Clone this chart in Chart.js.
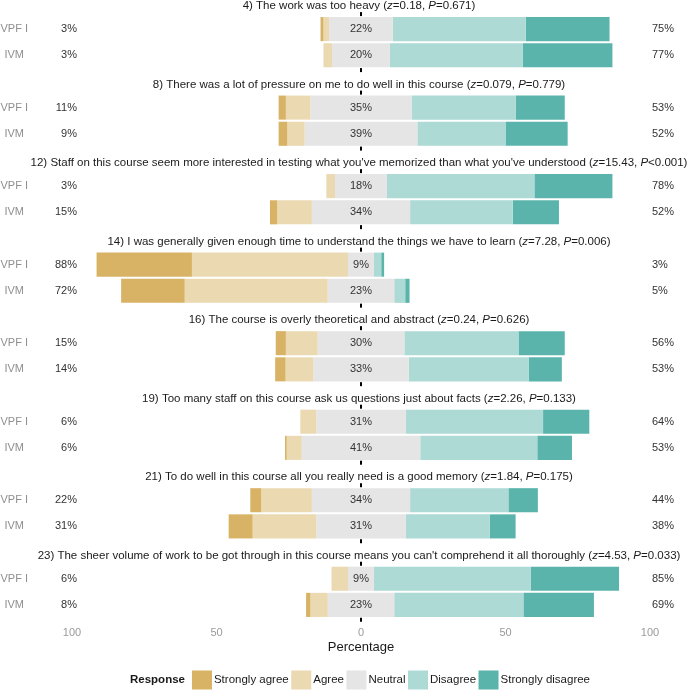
<!DOCTYPE html>
<html><head><meta charset="utf-8">
<script src="https://cdn.jsdelivr.net/npm/chart.js@4.4.0/dist/chart.umd.min.js"></script>
<style>html,body{margin:0;padding:0;background:#fff;}#wrap{width:691px;height:691px;}</style>
</head><body><div id="wrap"><canvas id="c" width="691" height="691"></canvas></div>
<script>
// ---------- DATA ----------
const questionNumbers = [4, 8, 12, 14, 16, 19, 21, 23];
const questions = [
  "The work was too heavy",
  "There was a lot of pressure on me to do well in this course",
  "Staff on this course seem more interested in testing what you've memorized than what you've understood",
  "I was generally given enough time to understand the things we have to learn",
  "The course is overly theoretical and abstract",
  "Too many staff on this course ask us questions just about facts",
  "To do well in this course all you really need is a good memory",
  "The sheer volume of work to be got through in this course means you can't comprehend it all thoroughly"
];
const zValues = ["0.18", "0.079", "15.43", "7.28", "0.24", "2.26", "1.84", "4.53"];
const pValues = ["=0.671", "=0.779", "<0.001", "=0.006", "=0.626", "=0.133", "=0.175", "=0.033"];
const groups = ["VPF I", "IVM"];
const responses = ["Strongly agree", "Agree", "Neutral", "Disagree", "Strongly disagree"];

// VPF I percentages per question
const vpfStronglyAgree    = [1, 2.5, 0, 33, 3.5, 0, 3.8, 0];
const vpfAgree            = [2, 8.5, 3, 54, 11, 5.5, 17.5, 5.7];
const vpfNeutral          = [22, 35, 18, 9, 30, 31, 34, 9];
const vpfDisagree         = [46, 36, 51, 2.5, 39.5, 47.5, 34, 54.2];
const vpfStronglyDisagree = [29, 17, 27, 1, 16, 16, 10.2, 30.6];
// IVM percentages per question
const ivmStronglyAgree    = [0, 3, 2.5, 22, 3.6, 0.6, 8.3, 1.5];
const ivmAgree            = [3, 6, 12, 49.5, 9.6, 5.2, 22, 6];
const ivmNeutral          = [20, 39, 34, 23, 33, 41, 31, 23];
const ivmDisagree         = [46, 30.5, 35.5, 3.8, 41.5, 40.5, 29, 44.7];
const ivmStronglyDisagree = [31, 21.5, 16, 1.5, 11.5, 12, 9, 24.4];

// printed summary labels
const vpfAgreeLabel    = [3, 11, 3, 88, 15, 6, 22, 6];
const vpfNeutralLabel  = [22, 35, 18, 9, 30, 31, 34, 9];
const vpfDisagreeLabel = [75, 53, 78, 3, 56, 64, 44, 85];
const ivmAgreeLabel    = [3, 9, 15, 72, 14, 6, 31, 8];
const ivmNeutralLabel  = [20, 39, 34, 23, 33, 41, 31, 23];
const ivmDisagreeLabel = [77, 52, 52, 5, 53, 53, 38, 69];

const xTicks = [-100, -50, 0, 50, 100];

// ---------- STYLE ----------
const colors = ["#D8B365", "#EBD9B2", "#E5E5E5", "#ADDAD5", "#5AB4AC"];
const FONT = "'Liberation Sans', Arial, Helvetica, sans-serif";
Chart.defaults.font.family = FONT;

// ---------- BUILD ROWS ----------
const groupData = {
  "VPF I": {sa: vpfStronglyAgree, a: vpfAgree, n: vpfNeutral, d: vpfDisagree, sd: vpfStronglyDisagree,
            lA: vpfAgreeLabel, lN: vpfNeutralLabel, lD: vpfDisagreeLabel},
  "IVM":   {sa: ivmStronglyAgree, a: ivmAgree, n: ivmNeutral, d: ivmDisagree, sd: ivmStronglyDisagree,
            lA: ivmAgreeLabel, lN: ivmNeutralLabel, lD: ivmDisagreeLabel}
};
const rowLabels = [];
const rows = []; // {group, q} or null
questions.forEach((q, i) => {
  groups.forEach(g => { rowLabels.push(g); rows.push({g, i}); });
  if (i < questions.length - 1) { rowLabels.push(""); rows.push(null); }
});
function segs(r) {
  const G = groupData[r.g], i = r.i;
  const sa = G.sa[i], a = G.a[i], n = G.n[i], d = G.d[i], sd = G.sd[i];
  const h = n / 2;
  return [[-(h + a + sa), -(h + a)], [-(h + a), -h], [-h, h], [h, h + d], [h + d, h + d + sd]];
}
const datasets = responses.map((name, k) => ({
  label: name,
  data: rows.map(r => r ? segs(r)[k] : null),
  backgroundColor: colors[k],
  borderWidth: 0,
  grouped: false,
  barPercentage: 0.92,
  categoryPercentage: 1.0
}));

// ---------- OVERLAY PLUGIN ----------
const overlay = {
  id: "overlay",
  beforeDatasetsDraw(chart) {
    const {ctx} = chart, x = chart.scales.x, y = chart.scales.y;
    ctx.save();
    ctx.strokeStyle = "#000"; ctx.lineWidth = 2; ctx.setLineDash([4, 4]);
    questions.forEach((q, i) => {
      const y0 = y.getPixelForValue(i * 3) - 17, y1 = y.getPixelForValue(i * 3 + 1) + 17;
      const x0 = Math.round(x.getPixelForValue(0));
      ctx.beginPath(); ctx.moveTo(x0, y0); ctx.lineTo(x0, y1); ctx.stroke();
    });
    ctx.restore();
  },
  afterDatasetsDraw(chart) {
    const {ctx} = chart, x = chart.scales.x, y = chart.scales.y;
    ctx.save();
    ctx.textBaseline = "middle";
    ctx.font = "11px " + FONT;
    ctx.fillStyle = "#333";
    rows.forEach((r, idx) => {
      if (!r) return;
      const G = groupData[r.g], yy = y.getPixelForValue(idx);
      ctx.textAlign = "right"; ctx.fillText(G.lA[r.i] + "%", x.getPixelForValue(-100) + 5, yy);
      ctx.textAlign = "center"; ctx.fillText(G.lN[r.i] + "%", x.getPixelForValue(0), yy);
      ctx.textAlign = "left"; ctx.fillText(G.lD[r.i] + "%", x.getPixelForValue(100) + 2, yy);
    });
    // facet titles
    const W = chart.width;
    ctx.fillStyle = "#1a1a1a";
    ctx.textAlign = "left";
    questions.forEach((q, i) => {
      const parts = [
        [questionNumbers[i] + ") " + q + " (", false],
        ["z", true], ["=" + zValues[i] + ", ", false],
        ["P", true], [pValues[i] + ")", false]
      ];
      const fontOf = it => (it ? "italic " : "") + "11.5px " + FONT;
      let total = 0;
      parts.forEach(([t, it]) => { ctx.font = fontOf(it); total += ctx.measureText(t).width; });
      let xs = x.getPixelForValue(0) - 2 - total / 2;
      xs = Math.max(3, Math.min(xs, W - 2 - total));
      const yy = y.getPixelForValue(i * 3) - 23;
      parts.forEach(([t, it]) => { ctx.font = fontOf(it); ctx.fillText(t, xs, yy); xs += ctx.measureText(t).width; });
    });
    ctx.restore();
  },
  afterDraw(chart) {
    const {ctx} = chart, x = chart.scales.x;
    ctx.save();
    ctx.textBaseline = "middle"; ctx.textAlign = "left";
    const yc = 680, bw = 20, bh = 19;
    ctx.font = "bold 11.5px " + FONT;
    const titleW = ctx.measureText("Response").width;
    ctx.font = "11.5px " + FONT;
    const widths = responses.map(t => ctx.measureText(t).width);
    let total = titleW + 7 + widths.reduce((s, w) => s + bw + 2 + w, 0) + 2.5 * (responses.length - 1);
    let xs = x.getPixelForValue(0) - 1 - total / 2;
    ctx.fillStyle = "#1a1a1a";
    ctx.font = "bold 11.5px " + FONT;
    ctx.fillText("Response", xs, yc);
    xs += titleW + 7;
    ctx.font = "11.5px " + FONT;
    responses.forEach((t, k) => {
      ctx.fillStyle = colors[k];
      ctx.fillRect(xs, yc - bh / 2, bw, bh);
      xs += bw + 2;
      ctx.fillStyle = "#1a1a1a";
      ctx.fillText(t, xs, yc);
      xs += widths[k] + 2.5;
    });
    ctx.restore();
  }
};

new Chart(document.getElementById("c"), {
  type: "bar",
  data: {labels: rowLabels, datasets},
  plugins: [overlay],
  options: {
    indexAxis: "y",
    responsive: false,
    devicePixelRatio: 1,
    animation: false,
    layout: {padding: {top: 16, bottom: 34, left: 0, right: 41}},
    plugins: {legend: {display: false}, tooltip: {enabled: false}},
    scales: {
      x: {
        type: "linear", min: -100, max: 100,
        afterBuildTicks: s => { s.ticks = xTicks.map(v => ({value: v})); },
        ticks: {callback: v => Math.abs(v), color: "#9a9a9a", font: {size: 11}, padding: 8},
        grid: {display: false, drawTicks: false},
        border: {display: false},
        title: {display: true, text: "Percentage", color: "#1a1a1a", font: {size: 13}, padding: {top: 0, bottom: 2}},
        afterFit: s => { s.height = 39; }
      },
      y: {
        type: "category",
        grid: {display: false, drawTicks: false},
        border: {display: false},
        ticks: {autoSkip: false, color: "#8f8f8f", font: {size: 11}, crossAlign: "center", padding: 44},
        afterFit: s => { s.width = 72; s.paddingTop = 0; s.paddingBottom = 0; }
      }
    }
  }
});
</script>
</body></html>
